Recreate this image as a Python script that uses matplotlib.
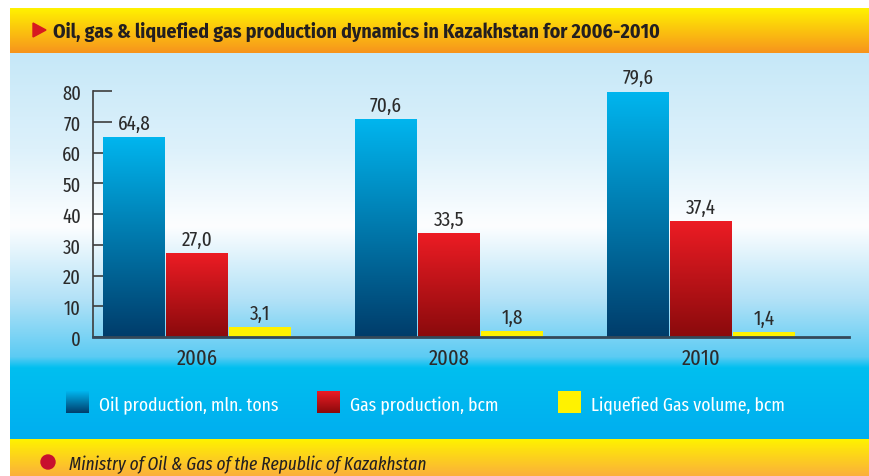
import numpy as np
import matplotlib
matplotlib.use("Agg")
import matplotlib.pyplot as plt
from matplotlib.colors import to_rgb
from matplotlib.patches import Polygon, Circle

# data
years = ["2006", "2008", "2010"]
oil = [64.8, 70.6, 79.6]
gas = [27.0, 33.5, 37.4]
lng = [3.1, 1.8, 1.4]
series_names = ["Oil production, mln. tons", "Gas production, bcm", "Liquefied Gas volume, bcm"]
yticks = [0, 10, 20, 30, 40, 50, 60, 70, 80]

title = "Oil, gas & liquefied gas production dynamics in Kazakhstan for 2006-2010"
source = "Ministry of Oil & Gas of the Republic of Kazakhstan"

FONT = ["Fira Sans Extra Condensed", "Fira Sans Condensed", "DejaVu Sans"]
FONT_BOLD = ["Fira Sans Condensed", "DejaVu Sans"]
plt.rcParams["font.family"] = FONT

W, H = 870, 477


def vgrad(stops, n):
    # vertical colour ramp, stops given as (row, colour)
    ys = [s[0] for s in stops]
    cols = np.array([to_rgb(s[1]) for s in stops])
    y = np.linspace(ys[0], ys[-1], n)
    col = np.stack([np.interp(y, ys, cols[:, k]) for k in range(3)], axis=1)
    return col[:, None, :]


fig = plt.figure(figsize=(W / 100, H / 100), dpi=100)
fig.patch.set_facecolor("white")

# background panel in pixel coords
bg = fig.add_axes([0, 0, 1, 1])
bg.axis("off")
bg.imshow(vgrad([(9, "#fff200"), (54, "#f7941d")], 60), extent=(10, W, 54, 9), aspect="auto")
bg.imshow(vgrad([(54, "#c6e8f8"), (150, "#ddf1fb"), (227, "#fdfeff"), (300, "#b3e2f7"),
                 (358, "#5ccbf3"), (369, "#00bff0"), (440, "#00aeef")], 400),
          extent=(10, W, 440, 54), aspect="auto")
bg.imshow(vgrad([(440, "#fff200"), (477, "#fbb03b")], 40), extent=(10, W, H, 440), aspect="auto")

# title
bg.add_patch(Polygon([(33, 24), (33, 38), (46, 31)], closed=True, color="#d71920"))
bg.text(53, 38, title, fontsize=14.3, fontweight="bold", family=FONT_BOLD, color="#231f20", va="baseline")

# footer
bg.add_patch(Circle((48, 463), 7, color="#c8102e"))
bg.text(69, 470, source, fontsize=13.5, style="italic", color="#231f20", va="baseline")

oil_grad = vgrad([(0, "#00b5ee"), (1, "#003d6b")], 100)
gas_grad = vgrad([(0, "#ec1c24"), (1, "#8a0a0c")], 100)
lng_grad = vgrad([(0, "#fff200"), (1, "#fff200")], 2)
grads = [oil_grad, gas_grad, lng_grad]

# legend
leg_x = [66, 317, 558]
for lx, g, name in zip(leg_x, grads, series_names):
    bg.imshow(g, extent=(lx, lx + 23, 414, 392), aspect="auto")
    bg.text(lx + 33, 411, name, fontsize=13.8, color="white", va="baseline")

bg.set_xlim(0, W)
bg.set_ylim(H, 0)

# chart
ax = fig.add_axes([93 / W, 1 - 338 / H, (849 - 93) / W, (338 - 92) / H])
ax.set_facecolor("none")
x = np.arange(len(years))
pitch = 0.25
width = 0.246
for k, (vals, g) in enumerate(zip([oil, gas, lng], grads)):
    pos = x + (k - 1) * pitch
    for p, v in zip(pos, vals):
        ax.imshow(g, extent=(p - width / 2, p + width / 2, 0, v), aspect="auto", zorder=2)
        ax.annotate(f"{v:.1f}".replace(".", ","), (p, v), xytext=(0, 3.5), textcoords="offset points",
                    ha="center", va="bottom", fontsize=15, color="#2b2b2b")

ax.set_xlim(-0.4127, 2.587)
ax.set_ylim(0, 80)
ax.set_xticks(x)
ax.set_xticklabels(years, fontsize=16, color="#2b2b2b")
ax.set_yticks(yticks)
ax.set_yticklabels([str(t) for t in yticks], fontsize=14.5, color="#2b2b2b")
ax.tick_params(axis="y", direction="in", length=13.7, width=1.2, color="#3d3d3d", pad=8.5)
ax.tick_params(axis="x", length=0, pad=7)
for s in ["top", "right"]:
    ax.spines[s].set_visible(False)
ax.spines["left"].set_color("#3d3d3d")
ax.spines["left"].set_linewidth(1.2)
ax.spines["bottom"].set_color("#34495a")
ax.spines["bottom"].set_linewidth(2)
ax.spines["bottom"].set_zorder(3)

fig.savefig("out.png", dpi=100)
